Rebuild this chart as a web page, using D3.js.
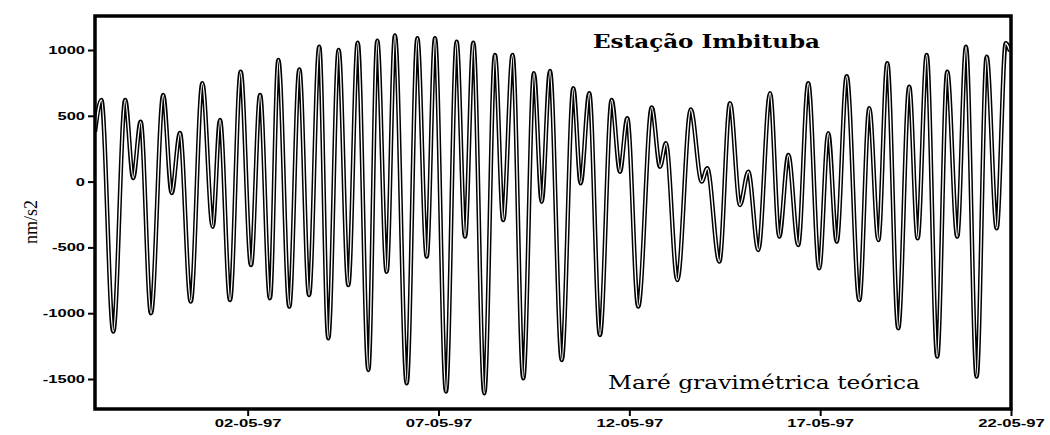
<!DOCTYPE html>
<html lang="pt">
<head>
<meta charset="utf-8">
<title>Estação Imbituba</title>
<script src="https://d3js.org/d3.v7.min.js"></script>
<style>
  body { margin: 0; background: #fff; }
</style>
</head>
<body>
<script>
// size of the page and of the framed plot
var w = 1050, h = 435;
var left = 95, top_ = 16, right = 1011, bottom = 409;

// turning points of the curve
// hours counted from 28-04-97 00:00, values in nm/s2
var hours = [0, 4, 11.5, 19, 24, 28.7, 35.2, 42.9, 48.2, 53.4, 60.2, 67.5, 74, 78.6, 84.9, 91.6,
  98.1, 103.8, 110, 115.3, 122.2, 128.5, 134.6, 141, 146.7, 153.2, 159.3, 165.2, 171.9, 177.5, 183.4, 188.6,
  196, 202.7, 208.6, 213.8, 220.7, 227.4, 232.7, 237.9, 244.8, 251.5, 256.7, 262.6, 269.3, 276, 280.9, 286.1,
  293.5, 300.8, 305.4, 310.8, 317.5, 324.9, 330.1, 334.7, 341.6, 350.1, 355.3, 359, 366.2, 374.6,
  381.5, 385, 392.6, 399.3, 405.6, 410.8, 417.1, 424.5, 430.3, 436, 442.2, 448.5, 455.4, 461.1, 466.4, 472.7,
  480.6, 486.9, 492.6, 498.2, 505.1, 512, 517.3, 523, 529.6, 535.9, 542.2, 547.7, 554.4, 560.7, 567, 572.7, 575.4];
var values = [380, 620, -1140, 620, 27, 455, -1000, 658, -87, 369, -912, 747, -343, 468, -900, 835,
  -634, 658, -887, 924, -950, 853, -862, 1025, -1191, 1000, -786, 1056, -1432, 1071, -685, 1110,
  -1533, 1089, -570, 1089, -1596, 1063, -418, 1056, -1609, 962, -292, 962, -1495, 823, -153, 840,
  -1356, 709, -13, 671, -1166, 620, 75, 481, -950, 564, 113, 291, -748, 549,
  0, 101, -608, 595, -178, 75, -520, 671, -418, 202, -482, 747, -659, 367, -456, 800,
  -900, 557, -444, 899, -1115, 721, -431, 962, -1330, 835, -418, 1025, -1482, 949, -355, 1051, 990];

var yTicks = [1000, 500, 0, -500, -1000, -1500];
var xTicks = ["1997-05-02", "1997-05-07", "1997-05-12", "1997-05-17", "1997-05-22"];
var startDate = "1997-04-28", endDate = "1997-05-22";

var parse = d3.timeParse("%Y-%m-%d");
var t0 = parse(startDate);
var data = hours.map(function(hr, i) {
  return { date: new Date(t0.getTime() + hr * 3600 * 1000), value: values[i] };
});

var svg = d3.select("body").append("svg")
  .attr("width", w)
  .attr("height", h);

var x = d3.scaleTime()
  .domain([t0, parse(endDate)])
  .range([left, right]);

// 1000 sits at y=50, -1500 at y=379
var y = d3.scaleLinear()
  .domain([-1500, 1000])
  .range([379, 50]);

// clip so the thick stroke stays inside the frame
svg.append("clipPath").attr("id", "plot")
  .append("rect")
  .attr("x", left).attr("y", top_)
  .attr("width", right - left).attr("height", bottom - top_);

var line = d3.line()
  .x(function(d) { return x(d.date); })
  .y(function(d) { return y(d.value); })
  .curve(d3.curveMonotoneX);

var g = svg.append("g").attr("clip-path", "url(#plot)");

// hollow look of the scanned trace: wide black stroke, thin white core
g.append("path").datum(data)
  .attr("d", line)
  .attr("fill", "none")
  .attr("stroke", "#000")
  .attr("stroke-width", 4.4)
  .attr("stroke-linejoin", "round");
g.append("path").datum(data)
  .attr("d", line)
  .attr("fill", "none")
  .attr("stroke", "#fff")
  .attr("stroke-width", 1.4)
  .attr("stroke-linejoin", "round");

// y axis, plain hyphen for the minus like the original
var yAxis = svg.append("g")
  .attr("transform", "translate(" + left + ",0)")
  .call(d3.axisLeft(y).tickValues(yTicks).tickSize(7).tickPadding(3)
    .tickFormat(function(d) { return String(d); }));
yAxis.select(".domain").remove();
yAxis.selectAll("line").attr("stroke-width", 2);
yAxis.selectAll("text")
  .attr("font-family", "'Liberation Sans', Arial, sans-serif")
  .attr("font-size", 11)
  .attr("font-weight", "bold")
  .attr("x", -10 / 1.5)
  .attr("transform", "scale(1.5,1)");

// x axis
var fmt = d3.timeFormat("%d-%m-%y");
var xAxis = svg.append("g")
  .attr("transform", "translate(0," + bottom + ")")
  .call(d3.axisBottom(x).tickValues(xTicks.map(parse)).tickSize(7).tickPadding(3).tickFormat(fmt));
xAxis.select(".domain").remove();
xAxis.selectAll("line").attr("stroke-width", 2);
xAxis.selectAll("text")
  .attr("font-family", "'Liberation Sans', Arial, sans-serif")
  .attr("font-size", 11.5)
  .attr("font-weight", "bold")
  .attr("transform", "scale(1.45,1)");

// frame
svg.append("rect")
  .attr("x", left).attr("y", top_)
  .attr("width", right - left).attr("height", bottom - top_)
  .attr("fill", "none")
  .attr("stroke", "#000")
  .attr("stroke-width", 3.5);

// y label
svg.append("text")
  .text("nm/s2")
  .attr("transform", "translate(37,222) rotate(-90)")
  .attr("text-anchor", "middle")
  .attr("fill", "#000")
  .attr("font-family", "'Liberation Serif', 'DejaVu Serif', serif")
  .attr("font-size", 18);

// titles inside the plot
svg.append("text")
  .text("Estação Imbituba")
  .attr("x", 593).attr("y", 48)
  .attr("textLength", 227)
  .attr("lengthAdjust", "spacingAndGlyphs")
  .attr("font-family", "'DejaVu Serif', serif")
  .attr("font-weight", "bold")
  .attr("font-size", 19);

svg.append("text")
  .text("Maré gravimétrica teórica")
  .attr("x", 608).attr("y", 389)
  .attr("textLength", 312)
  .attr("lengthAdjust", "spacingAndGlyphs")
  .attr("font-family", "'DejaVu Serif', serif")
  .attr("font-size", 18);
</script>
</body>
</html>
